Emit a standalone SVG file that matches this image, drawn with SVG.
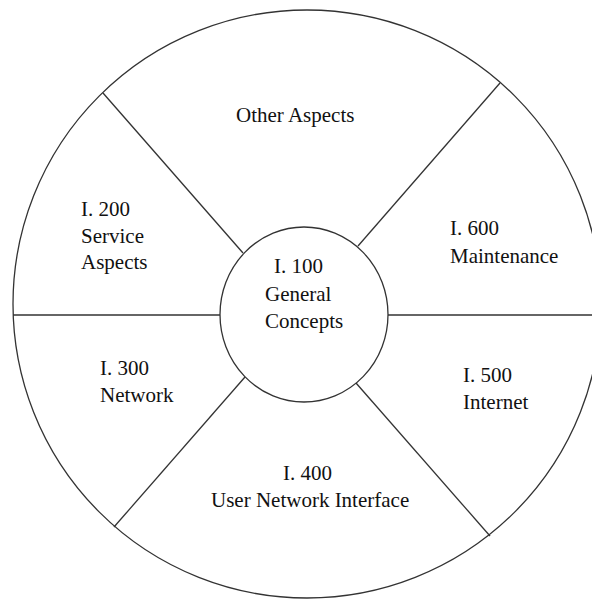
<svg xmlns="http://www.w3.org/2000/svg" width="592" height="600" viewBox="0 0 592 600">
<style>
.ln{stroke:#333;stroke-width:1.3;fill:none}
.t{font-family:"Liberation Serif","Times New Roman",serif;font-size:21px;fill:#111}
</style>
<rect width="592" height="600" fill="#fff"/>
<g id="connectors">
<line class="ln" x1="103" y1="93" x2="243" y2="253"/>
<line class="ln" x1="500" y1="83" x2="358" y2="246"/>
<line class="ln" x1="114" y1="527" x2="245" y2="377"/>
<line class="ln" x1="490" y1="536" x2="356" y2="383"/>
<line class="ln" x1="13" y1="315" x2="220" y2="315"/>
<line class="ln" x1="388" y1="315" x2="592" y2="315"/>
</g>
<g id="outer"><circle class="ln" cx="307" cy="304" r="294"/></g>
<g id="other"><text class="t" x="236" y="122">Other Aspects</text></g>
<g id="i200"><text class="t" x="81" y="216">I. 200</text><text class="t" x="81" y="243">Service</text><text class="t" x="81" y="269">Aspects</text></g>
<g id="i600"><text class="t" x="450" y="235">I. 600</text><text class="t" x="450" y="263">Maintenance</text></g>
<g id="i300"><text class="t" x="100" y="375">I. 300</text><text class="t" x="100" y="402">Network</text></g>
<g id="i500"><text class="t" x="463" y="382">I. 500</text><text class="t" x="463" y="409">Internet</text></g>
<g id="i400"><text class="t" x="283" y="480">I. 400</text><text class="t" x="211" y="507">User Network Interface</text></g>
<g id="i100"><ellipse class="ln" cx="304" cy="314.5" rx="84" ry="87.5" fill="#fff"/><text class="t" x="274" y="273">I. 100</text><text class="t" x="265" y="301">General</text><text class="t" x="265" y="328">Concepts</text></g>
</svg>
